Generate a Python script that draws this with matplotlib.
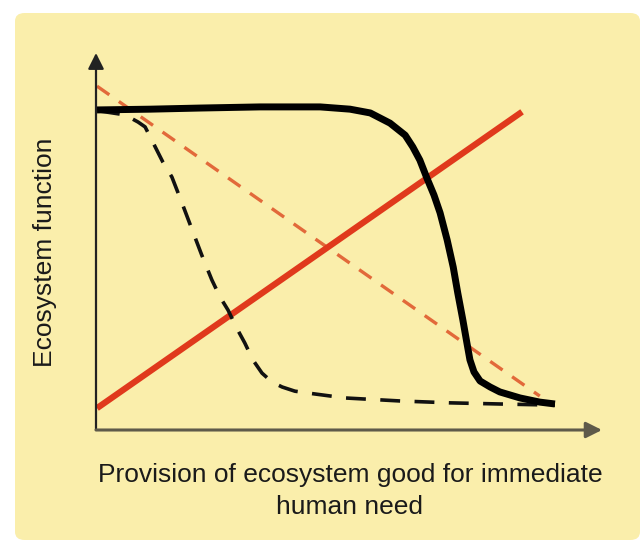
import numpy as np
import matplotlib
matplotlib.use("Agg")
import matplotlib.pyplot as plt
from matplotlib.patches import FancyBboxPatch

plt.rcParams['font.family'] = ['Liberation Sans', 'DejaVu Sans']

# curves (x, y both 0..1 along the axes)
solid_x = [0.002, 0.107, 0.206, 0.324, 0.443, 0.502, 0.542, 0.581, 0.611, 0.626,
           0.640, 0.654, 0.668, 0.680, 0.694, 0.706, 0.715, 0.725, 0.733, 0.739,
           0.747, 0.759, 0.779, 0.798, 0.838, 0.877, 0.907]
solid_y = [0.849, 0.851, 0.854, 0.857, 0.857, 0.851, 0.841, 0.814, 0.782, 0.751,
           0.716, 0.668, 0.623, 0.576, 0.504, 0.432, 0.363, 0.292, 0.231, 0.186,
           0.154, 0.130, 0.114, 0.101, 0.085, 0.074, 0.069]

dash_x = [0.008, 0.057, 0.083, 0.097, 0.117, 0.132, 0.150, 0.170, 0.190, 0.209,
          0.229, 0.245, 0.261, 0.277, 0.294, 0.310, 0.328, 0.348, 0.368, 0.393,
          0.419, 0.492, 0.601, 0.700, 0.798, 0.907]
dash_y = [0.846, 0.836, 0.817, 0.804, 0.751, 0.711, 0.671, 0.602, 0.531, 0.464,
          0.398, 0.353, 0.318, 0.273, 0.231, 0.186, 0.151, 0.127, 0.114, 0.103,
          0.098, 0.085, 0.077, 0.072, 0.069, 0.066]

red_x = [0.002, 0.842]
red_y = [0.058, 0.844]

reddash_x = [0.002, 0.877]
reddash_y = [0.912, 0.090]

ylabel = "Ecosystem function"
xlabel = "Provision of ecosystem good for immediate\nhuman need"

bg = '#faeeab'

fig = plt.figure(figsize=(6.42, 5.46), dpi=100)
fig.patch.set_facecolor('white')

panel = FancyBboxPatch((15 / 642, 6 / 546), 625 / 642, 527 / 546,
                       boxstyle="round,pad=0,rounding_size=0.015",
                       transform=fig.transFigure, facecolor=bg, edgecolor='none',
                       zorder=-5)
fig.patches.append(panel)

ax = fig.add_axes([96 / 642, 116 / 546, 506 / 642, 377 / 546])
ax.set_facecolor('none')
ax.set_xlim(0, 1)
ax.set_ylim(0, 1)
for s in ax.spines.values():
    s.set_visible(False)
ax.set_xticks([])
ax.set_yticks([])

# axes with arrow heads
ax.annotate('', xy=(0, 1), xytext=(0, 0), xycoords='axes fraction',
            arrowprops=dict(arrowstyle='-|>', color='#222222', lw=1.6,
                            mutation_scale=24, shrinkA=0, shrinkB=0))
ax.annotate('', xy=(1, 0), xytext=(0, 0), xycoords='axes fraction',
            arrowprops=dict(arrowstyle='-|>', color='#5e5a4a', lw=2.2,
                            mutation_scale=24, shrinkA=0, shrinkB=0))

ax.plot(reddash_x, reddash_y, color='#e2693a', lw=2.4, dashes=(4.5, 3.5))
ax.plot(red_x, red_y, color='#e0391c', lw=4.5, solid_capstyle='butt')
ax.plot(dash_x, dash_y, color='#111111', lw=2.6, dashes=(5.5, 4),
        dash_joinstyle='round')
ax.plot(solid_x, solid_y, color='black', lw=5, solid_capstyle='butt',
        solid_joinstyle='round')

fig.text(45 / 642, 1 - 252 / 546, ylabel, rotation=90, ha='center', va='center',
         fontsize=19, color='#1a1a1a')
fig.text(350 / 642, 1 - 491 / 546, xlabel, ha='center', va='center',
         fontsize=19, color='#1a1a1a', linespacing=1.45)

fig.savefig('out.png', dpi=100, facecolor='white')
